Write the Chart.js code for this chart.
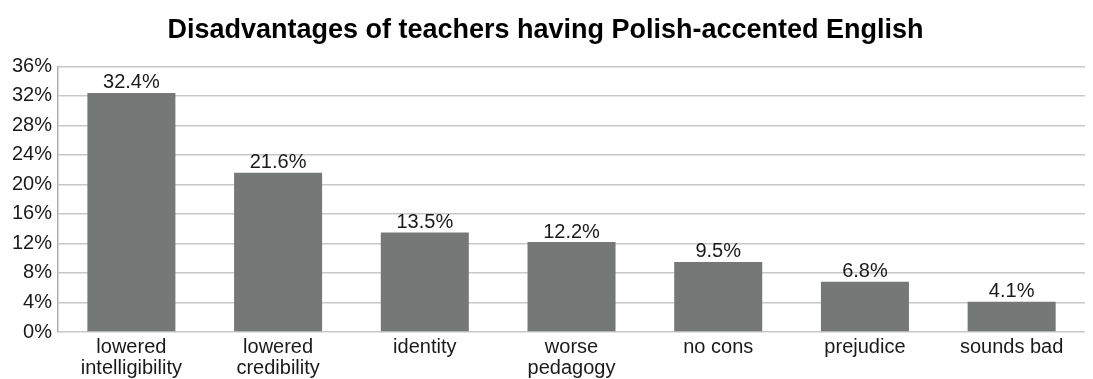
<!DOCTYPE html>
<html>
<head>
<meta charset="utf-8">
<script src="https://cdn.jsdelivr.net/npm/chart.js@4.4.1/dist/chart.umd.min.js"></script>
<style>
  html, body { margin: 0; padding: 0; background: #fff; overflow: hidden; }
  #wrap { width: 1093px; height: 385px; position: relative; }
</style>
</head>
<body>
<div id="wrap"><canvas id="grafico"></canvas></div>
<script>
// dados do gráfico
const categorias = [
  ['lowered', 'intelligibility'],
  ['lowered', 'credibility'],
  'identity',
  ['worse', 'pedagogy'],
  'no cons',
  'prejudice',
  'sounds bad'
];
const percentuais = [32.4, 21.6, 13.5, 12.2, 9.5, 6.8, 4.1];
const titulo = 'Disadvantages of teachers having Polish-accented English';

const fonte = '"Liberation Sans", Arial, sans-serif';

// rótulos acima das barras
const rotulosBarras = {
  id: 'rotulosBarras',
  afterDatasetsDraw(chart) {
    const c = chart.ctx;
    const meta = chart.getDatasetMeta(0);
    c.save();
    c.font = '20px ' + fonte;
    c.fillStyle = '#1a1a1a';
    c.textAlign = 'center';
    c.textBaseline = 'bottom';
    meta.data.forEach((barra, i) => {
      c.fillText(percentuais[i].toFixed(1) + '%', barra.x, barra.y);
    });
    c.restore();
  }
};

new Chart(document.getElementById('grafico').getContext('2d'), {
  type: 'bar',
  data: {
    labels: categorias,
    datasets: [{
      data: percentuais,
      backgroundColor: '#767878',
      borderWidth: 0,
      categoryPercentage: 1,
      barPercentage: 0.6
    }]
  },
  options: {
    responsive: true,
    maintainAspectRatio: false,
    animation: false,
    layout: { padding: { left: 6, right: 8, top: 0, bottom: 1 } },
    plugins: {
      legend: { display: false },
      tooltip: { enabled: false },
      title: {
        display: true,
        text: titulo,
        color: '#000',
        font: { family: fonte, size: 27, weight: 'bold' },
        padding: { top: 14, bottom: 20 }
      }
    },
    scales: {
      y: {
        min: 0,
        max: 36,
        ticks: {
          stepSize: 4,
          padding: 6,
          color: '#1a1a1a',
          font: { family: fonte, size: 20 },
          callback: (v) => v + '%'
        },
        grid: { color: '#c8c8c8', lineWidth: 1.5, drawTicks: false },
        border: { display: true, color: '#b0b0b0', width: 1.5 }
      },
      x: {
        ticks: {
          padding: 5,
          color: '#1a1a1a',
          maxRotation: 0,
          autoSkip: false,
          font: { family: fonte, size: 20, lineHeight: 1.05 }
        },
        grid: { display: false, drawTicks: false },
        border: { display: false }
      }
    }
  },
  plugins: [rotulosBarras]
});
</script>
</body>
</html>
